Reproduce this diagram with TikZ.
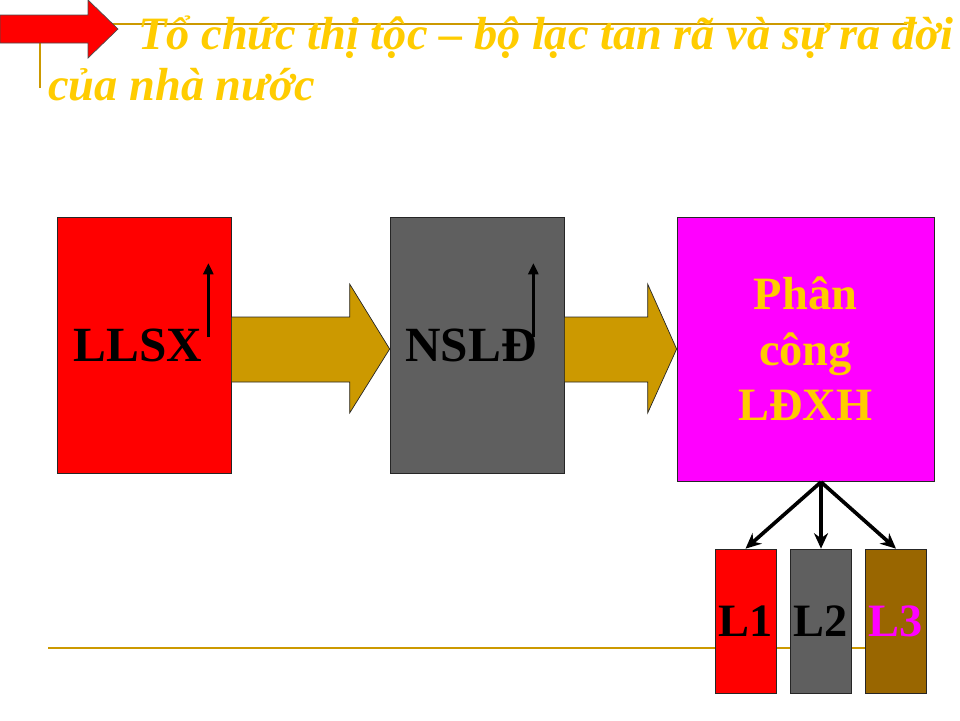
\documentclass[tikz,border=0pt]{standalone}
\usepackage{fontspec}
\setmainfont{Liberation Serif}
\usepackage{tikz}
\usetikzlibrary{calc, arrows.meta}

\definecolor{titlegold}{HTML}{FFCC00}
\definecolor{rulegold}{HTML}{CC9900}
\definecolor{arrowgold}{HTML}{CC9900}
\definecolor{boxgray}{HTML}{5F5F5F}
\definecolor{boxbrown}{HTML}{996600}
\definecolor{boxmagenta}{HTML}{FF00FF}

\begin{document}
\begin{tikzpicture}[
    bigbox/.style={draw=black!85, line width=0.5pt, inner sep=0pt, font=\bfseries\fontsize{35}{40}\selectfont},
    smallbox/.style={bigbox, minimum width=1.525cm, minimum height=3.6cm, font=\bfseries\fontsize{33}{39}\selectfont},
    blockarrow/.style={fill=arrowgold, draw=black!85, line width=0.5pt},
    risearrow/.style={->, >={Triangle[length=8pt, width=7pt]}, line width=2.2pt},
    splitarrow/.style={->, >={Stealth[length=11pt, width=10pt]}, line width=2.6pt},
    titletext/.style={anchor=base west, inner sep=0pt, text=titlegold, font=\bfseries\itshape\fontsize{33}{39}\selectfont}
  ]
                    \useasboundingbox (0,0) rectangle (24,-18);

                    % title bar
                    \draw[rulegold, line width=1pt] (1.0,-2.2) -- (1.0,-0.6) -- (22.675,-0.6);
                    \filldraw[fill=red, draw=black!70, line width=0.5pt] (0,-0.375) -- (2.2,-0.375) -- (2.2,0) -- (2.95,-0.725) -- (2.2,-1.45) -- (2.2,-1.075) -- (0,-1.075) -- cycle;
                    \node[titletext] (title1) at (3.45,-1.225) {Tổ chức thị tộc – bộ lạc tan rã và sự ra đời};
                    \node[titletext] (title2) at (1.2,-2.5) {của nhà nước};

                    % bottom rule
                    \draw[rulegold, line width=1pt] (1.2,-16.2) -- (22.6,-16.2);

                    \node[bigbox, fill=red, minimum width=4.35cm, minimum height=6.4cm] (llsx) at (3.6,-8.625) {\hspace*{-0.3cm}LLSX};
                    \node[bigbox, fill=boxgray, minimum width=4.35cm, minimum height=6.4cm] (nsld) at (11.925,-8.625) {\hspace*{-0.3cm}NSLĐ};
                    \node[bigbox, fill=boxmagenta, text=titlegold, align=center, minimum width=6.425cm, minimum height=6.6cm,
                          font=\bfseries\fontsize{33}{39.5}\selectfont] (pcld) at (20.1375,-8.725) {Phân\\ công\\ LĐXH};

                    \node[smallbox, fill=red] (l1) at (18.6375,-15.525) {L1};
                    \node[smallbox, fill=boxgray] (l2) at (20.525,-15.525) {L2};
                    \node[smallbox, fill=boxbrown, text=boxmagenta] (l3) at (22.4,-15.525) {L3};

                    \filldraw[blockarrow] ($(llsx.east)+(0,0.7)$) -- ($(nsld.west)+(-1,0.7)$) -- ($(nsld.west)+(-1,1.525)$) -- ($(nsld.west)+(0,-0.1)$)
                        -- ($(nsld.west)+(-1,-1.7)$) -- ($(nsld.west)+(-1,-0.925)$) -- ($(llsx.east)+(0,-0.925)$) -- cycle;
                    \filldraw[blockarrow] ($(nsld.east)+(0,0.7)$) -- ($(pcld.west)+(-0.725,0.8)$) -- ($(pcld.west)+(-0.725,1.625)$) -- (pcld.west)
                        -- ($(pcld.west)+(-0.725,-1.6)$) -- ($(pcld.west)+(-0.725,-0.825)$) -- ($(nsld.east)+(0,-0.925)$) -- cycle;

                    \draw[risearrow] ($(llsx.east)+(-0.575,0.2)$) -- ++(0,1.85);
                    \draw[risearrow] ($(nsld.east)+(-0.775,0.2)$) -- ++(0,1.85);

                    \coordinate (split) at (20.525,-12.05);
                    \draw[splitarrow] (split) -- (l1.north);
                    \draw[splitarrow] (split) -- (l2.north);
                    \draw[splitarrow] (split) -- (l3.north);
                \end{tikzpicture}
\end{document}
